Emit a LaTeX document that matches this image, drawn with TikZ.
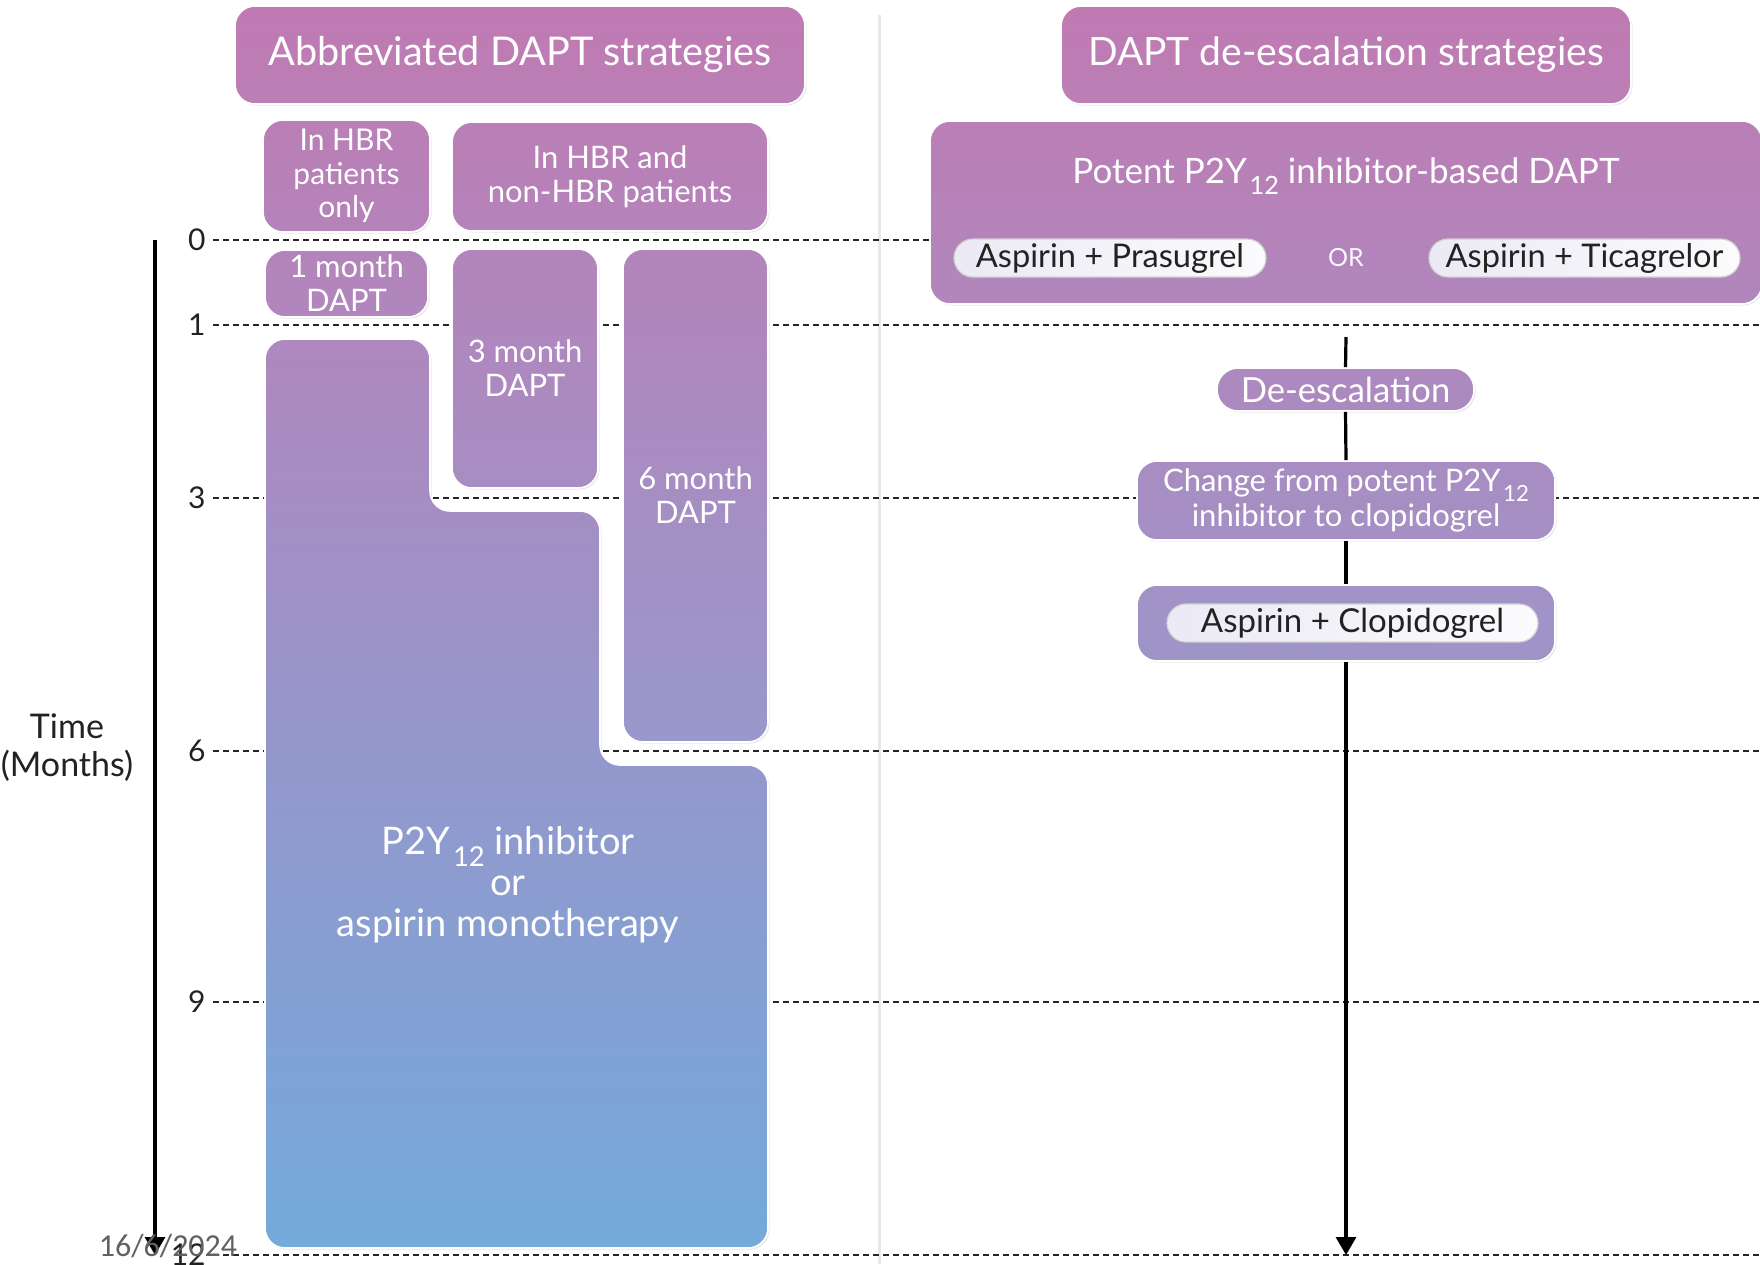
\documentclass[tikz,border=0pt]{standalone}
\usepackage{fontspec}
\setmainfont{Lato}
\newfontfamily\datefont{Carlito}
\usetikzlibrary{arrows.meta,shadows}

\definecolor{pinkc}{HTML}{C07AB2}
\definecolor{lavc}{HTML}{9C96CA}
\definecolor{bluec}{HTML}{74AADC}
\definecolor{inkc}{HTML}{222222}
\definecolor{sepc}{HTML}{E8E8E8}

\newcommand{\lowsub}[1]{\hspace{0.08em}\raisebox{-0.6ex}{\scalebox{0.72}{#1}}}

\tikzset{
  panel/.style={rounded corners=10pt, draw=white, line width=0.8pt, text=white, align=center,
    inner sep=0pt, drop shadow={opacity=0.18, shadow xshift=0.8pt, shadow yshift=-0.8pt}},
  pill/.style={rounded corners=9.5pt, left color=white!80!lavc, right color=white!96!lavc,
    draw=black!18, line width=0.6pt, text=inkc, inner sep=0pt, minimum height=19pt},
  gridline/.style={dash pattern=on 3pt off 2pt, line width=1.4pt, black!85},
  ticklabel/.style={text=inkc, anchor=east, inner sep=0pt, font=\fontsize{15}{17}\selectfont},
  flowline/.style={line width=1.6pt, black},
  timeline/.style={line width=1.6pt, black, -{Triangle[width=10pt,length=9pt]}},
}

\begin{document}
\begin{tikzpicture}[x=0.5pt, y=-0.5pt]
  \useasboundingbox (0,0) rectangle (1760,1264);

  % separator between the two halves
  \draw[sepc, line width=1.5pt] (879,15) -- (879,1264);

  % month grid
  \foreach \m/\yy in {0/240, 1/325, 3/498, 6/751, 9/1002, 12/1255} {
    \draw[gridline] (213,\yy) -- (1760,\yy);
    \node[ticklabel] (tick\m) at (206,\yy) {\m};
  }

  % time axis
  \coordinate (axtop) at (155,240);
  \coordinate (axend) at (155,1255);
  \draw[timeline] (axtop) -- (axend);
  \node[text=inkc, align=center, font=\fontsize{17}{19}\selectfont] (timelab) at (67,748) {Time\\(Months)};

  % abbreviated DAPT side
  \node[panel, minimum width=285pt, minimum height=49pt, top color=pinkc, bottom color=lavc!15!pinkc,
    font=\fontsize{19.8}{22}\selectfont] (titleL) at (520,55) {Abbreviated DAPT strategies};
  \node[panel, minimum width=83.5pt, minimum height=56pt, top color=lavc!17!pinkc, bottom color=lavc!33!pinkc,
    font=\fontsize{15}{16.8}\selectfont] (hbronly) at (346.5,176) {In HBR\\patients\\only};
  \node[panel, minimum width=158pt, minimum height=54.5pt, top color=lavc!17!pinkc, bottom color=lavc!33!pinkc,
    font=\fontsize{15.5}{16.8}\selectfont] (hbrall) at (610,176.5) {In HBR and\\non-HBR patients};

  \node[panel, minimum width=81.5pt, minimum height=33.5pt, top color=lavc!36!pinkc, bottom color=lavc!45!pinkc,
    font=\fontsize{15.5}{17}\selectfont] (month1) at (346.5,283.5) {1 month\\DAPT};
  \node[panel, minimum width=73pt, minimum height=119.5pt, top color=lavc!36!pinkc, bottom color=lavc!70!pinkc,
    font=\fontsize{15.5}{17}\selectfont] (month3) at (525,368.5) {3 month\\DAPT};
  \node[panel, minimum width=72.5pt, minimum height=246.5pt, top color=lavc!36!pinkc, bottom color=bluec!8!lavc,
    font=\fontsize{15.5}{17}\selectfont] (month6) at (695.5,495.5) {6 month\\DAPT};

  \draw[panel, top color=lavc!48!pinkc, middle color=bluec!17!lavc, bottom color=bluec]
    (265,800) -- (265,339) -- (430,339) -- (430,511) -- (600,511) -- (600,765)
    -- (768,765) -- (768,1248) -- (265,1248) -- cycle;
  \node[text=white, align=center, font=\fontsize{19}{20.5}\selectfont] (mono) at (508,885)
    {P2Y\lowsub{12} inhibitor\\or\\aspirin monotherapy};

  % de-escalation side
  \node[panel, minimum width=285pt, minimum height=49pt, top color=pinkc, bottom color=lavc!15!pinkc,
    font=\fontsize{19.5}{22}\selectfont] (titleR) at (1346,55) {DAPT de-escalation strategies};
  \node[panel, minimum width=416pt, minimum height=91.5pt, top color=lavc!17!pinkc, bottom color=lavc!43!pinkc]
    (potent) at (1346,212.5) {};
  \node[text=white, font=\fontsize{17.5}{18}\selectfont] (potenttxt) at (1346,176)
    {Potent P2Y\lowsub{12} inhibitor-based DAPT};
  \node[pill, minimum width=156pt, font=\fontsize{16.3}{16}\selectfont] (pras) at (1110,258) {Aspirin + Prasugrel};
  \node[text=white!92!lavc, font=\fontsize{12.5}{14}\selectfont] (ortxt) at (1346,258) {OR};
  \node[pill, minimum width=155.5pt, font=\fontsize{16.3}{16}\selectfont] (tica) at (1584.5,258) {Aspirin + Ticagrelor};

  \node[panel, rounded corners=10.5pt, minimum width=128.5pt, minimum height=21.5pt,
    top color=lavc!53!pinkc, bottom color=lavc!59!pinkc, font=\fontsize{17.3}{17}\selectfont]
    (deesc) at (1345.5,389.5) {De-escalation};
  \node[panel, minimum width=209pt, minimum height=39.5pt, top color=lavc!66!pinkc, bottom color=lavc!77!pinkc,
    font=\fontsize{15.5}{15.7}\selectfont] (change) at (1346,500.5)
    {Change from potent P2Y\lowsub{12}\\inhibitor to clopidogrel};
  \node[panel, minimum width=209pt, minimum height=38pt, top color=lavc!84!pinkc, bottom color=lavc!94!pinkc]
    (clopibox) at (1346,623) {};
  \node[pill, minimum width=185.5pt, font=\fontsize{16.5}{16}\selectfont] (clopi) at (1352.5,623) {Aspirin + Clopidogrel};

  \coordinate (arrtop) at (1346,337);
  \coordinate (arrend) at (1346,1255);
  \draw[flowline] (arrtop) -- (deesc.north);
  \draw[flowline] (deesc.south) -- (change.north);
  \draw[flowline] (change.south) -- (clopibox.north);
  \draw[timeline] (clopibox.south) -- (arrend);

  % footer date
  \node[text=black!62, font=\datefont\fontsize{16}{18}\selectfont] (date) at (168,1246) {16/6/2024};
\end{tikzpicture}
\end{document}
